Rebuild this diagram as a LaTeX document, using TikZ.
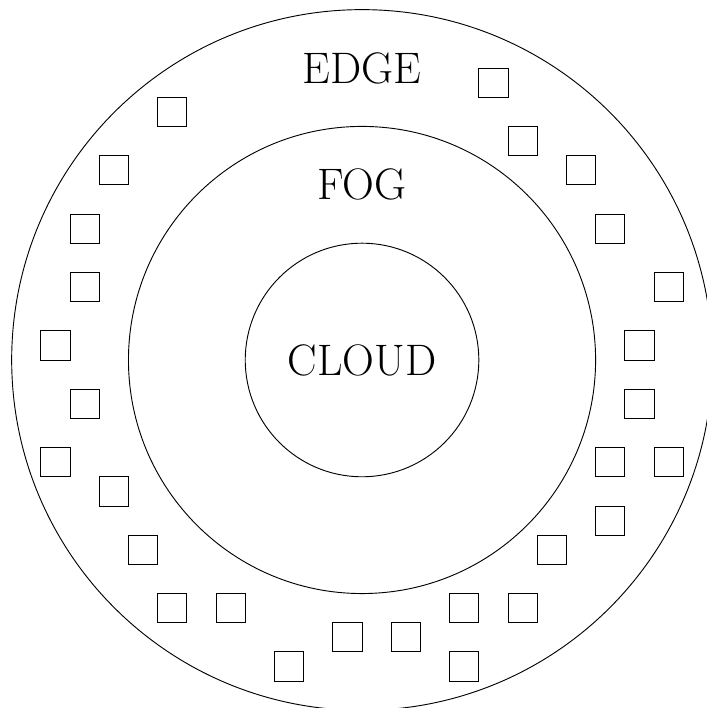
\documentclass[tikz,border=0pt]{standalone}
\begin{document}
\begin{tikzpicture}[
  ring/.style={draw, line width=0.9pt},
  device/.style={draw, line width=0.9pt},
  layer/.style={font=\fontsize{43}{51}\selectfont, inner sep=0pt}
]
\useasboundingbox (-12.4,-11.92) rectangle (11.81,12.33);
\begin{scope}
\clip (-12.4,-11.92) rectangle (11.81,12.33);
% three nested layers
\draw[ring] (0,0) circle (12);
\draw[ring] (0,0) circle (8);
\draw[ring] (0,0) circle (4);
% edge devices, each a unit square given by its lower-left corner
\foreach \x/\y [count=\i] in {
  -7/8, -9/6, -10/4, -10/2, -11/0, -10/-2, -11/-4, -9/-5, -8/-7,
  -7/-9, -5/-9, -1/-10, -3/-11, 1/-10, 3/-9, 5/-9, 3/-11, 6/-7,
  8/-6, 8/-4, 10/-4, 9/-2, 9/0, 10/2, 8/4, 7/6, 5/7, 4/9}
  \draw[device] (\x,\y) rectangle ++(1,1) node[coordinate] (dev\i) {};
\end{scope}
\node[layer] (edge) at (0,10) {EDGE};
\node[layer] (fog) at (0,6) {FOG};
\node[layer] (cloud) at (0,0) {CLOUD};
\end{tikzpicture}
\end{document}
